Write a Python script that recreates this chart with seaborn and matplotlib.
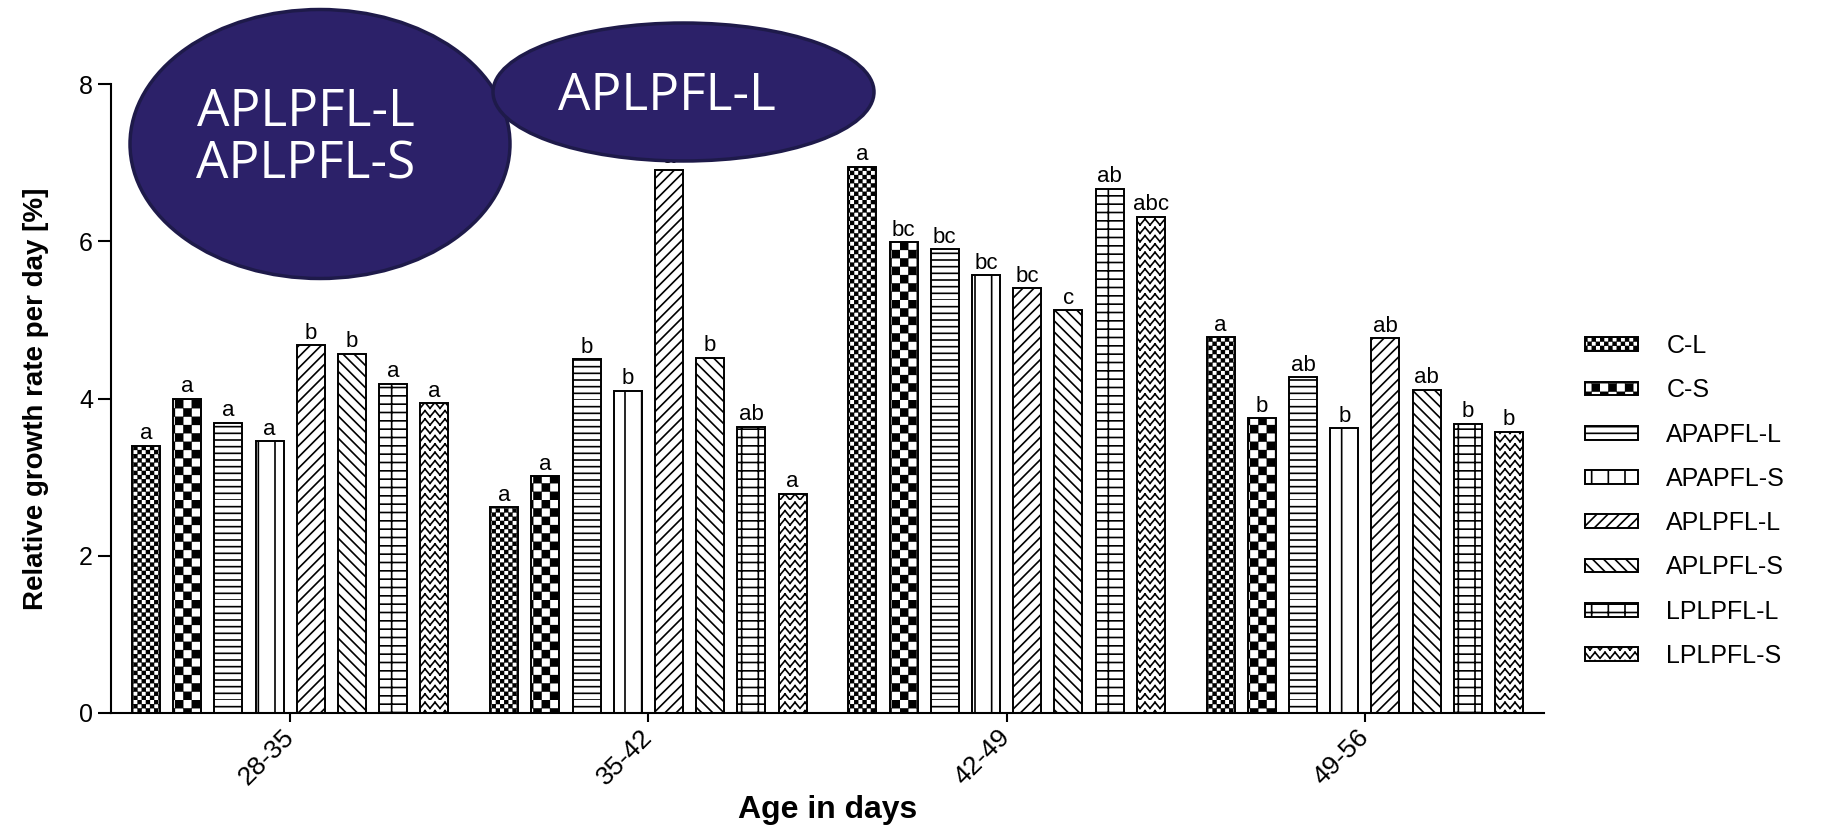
import warnings
import numpy as np
import pandas as pd
import matplotlib
matplotlib.use('Agg')
import matplotlib.pyplot as plt
import matplotlib.hatch as mhatch
from matplotlib.path import Path
from matplotlib.patches import Ellipse
import seaborn as sns

warnings.filterwarnings('ignore')

ages = ['28-35', '35-42', '42-49', '49-56']
treatments = ['C-L', 'C-S', 'APAPFL-L', 'APAPFL-S', 'APLPFL-L', 'APLPFL-S', 'LPLPFL-L', 'LPLPFL-S']

# relative growth rate per day [%], one value per age period
c_l = [3.40, 2.62, 6.95, 4.78]
c_s = [4.00, 3.01, 5.99, 3.75]
apapfl_l = [3.69, 4.50, 5.90, 4.27]
apapfl_s = [3.46, 4.10, 5.57, 3.62]
aplpfl_l = [4.68, 6.91, 5.40, 4.77]
aplpfl_s = [4.57, 4.52, 5.12, 4.11]
lplpfl_l = [4.19, 3.64, 6.67, 3.68]
lplpfl_s = [3.94, 2.79, 6.31, 3.58]

# significance letters
let_c_l = ['a', 'a', 'a', 'a']
let_c_s = ['a', 'a', 'bc', 'b']
let_apapfl_l = ['a', 'b', 'bc', 'ab']
let_apapfl_s = ['a', 'b', 'bc', 'b']
let_aplpfl_l = ['b', 'a', 'bc', 'ab']
let_aplpfl_s = ['b', 'b', 'c', 'ab']
let_lplpfl_l = ['a', 'ab', 'ab', 'b']
let_lplpfl_s = ['a', 'a', 'abc', 'b']

values = [c_l, c_s, apapfl_l, apapfl_s, aplpfl_l, aplpfl_s, lplpfl_l, lplpfl_s]
letters = [let_c_l, let_c_s, let_apapfl_l, let_apapfl_s,
           let_aplpfl_l, let_aplpfl_s, let_lplpfl_l, let_lplpfl_s]


# extra hatch patterns: checkerboards, zigzag, denser horizontal lines
class Checker(mhatch.HatchPatternBase):
    def __init__(self, hatch, density):
        self.n = 24 if 'k' in hatch else (12 if 'K' in hatch else 0)
        self.num_vertices = self.n * self.n // 2 * 5

    def set_vertices_and_codes(self, vertices, codes):
        s = 1.0 / self.n
        e = 0.007
        sq = np.array([[e, e], [s - e, e], [s - e, s - e], [e, s - e], [e, e]])
        cells = [(i, j) for i in range(self.n) for j in range(self.n) if (i + j) % 2 == 0]
        vertices[:] = np.concatenate([sq + [i * s, j * s] for i, j in cells])
        one = [Path.MOVETO, Path.LINETO, Path.LINETO, Path.LINETO, Path.CLOSEPOLY]
        codes[:] = np.tile(one, len(cells))


class Zigzag(mhatch.HatchPatternBase):
    def __init__(self, hatch, density):
        self.rows = 12 if 'z' in hatch else 0
        self.steps = 20
        self.num_vertices = self.rows * self.steps * 2

    def set_vertices_and_codes(self, vertices, codes):
        xs = np.linspace(0, 1, self.steps + 1)
        ys = np.where(np.arange(self.steps + 1) % 2, 0.06, 0.0)
        segs = []
        for r in range(self.rows):
            y0 = r / self.rows
            for k in range(self.steps):
                segs.append([xs[k], ys[k] + y0])
                segs.append([xs[k + 1], ys[k + 1] + y0])
        vertices[:] = np.array(segs)
        codes[:] = np.tile([Path.MOVETO, Path.LINETO], self.rows * self.steps)


class Horizontal(mhatch.HatchPatternBase):
    def __init__(self, hatch, density):
        self.n = 15 if 'h' in hatch else 0
        self.num_vertices = self.n * 2

    def set_vertices_and_codes(self, vertices, codes):
        ys = np.arange(self.n) / self.n
        vertices[0::2, 0] = 0.0
        vertices[1::2, 0] = 1.0
        vertices[0::2, 1] = ys
        vertices[1::2, 1] = ys
        codes[0::2] = Path.MOVETO
        codes[1::2] = Path.LINETO


mhatch._hatch_types.extend([Checker, Zigzag, Horizontal])

hatches = ['k', 'K', 'h', '|', '///', '\\\\\\', '--|', 'z']

rows = []
for t, vals in zip(treatments, values):
    for a, v in zip(ages, vals):
        rows.append({'age': a, 'treatment': t, 'rgr': v})
df = pd.DataFrame(rows)

sns.set_style('ticks')
plt.rcParams['font.family'] = ['Liberation Sans', 'DejaVu Sans']
plt.rcParams['hatch.linewidth'] = 1.2
plt.rcParams['hatch.color'] = 'black'
for key in ['text.color', 'axes.labelcolor', 'xtick.color', 'ytick.color', 'axes.edgecolor']:
    plt.rcParams[key] = 'black'

W, H = 1832, 831
fig = plt.figure(figsize=(W / 100, H / 100), dpi=100)
ax = fig.add_axes([111 / W, 1 - 713 / H, 1433 / W, 629 / H])

sns.barplot(data=df, x='age', y='rgr', hue='treatment', order=ages, hue_order=treatments,
            palette=['white'] * 8, saturation=1, edgecolor='black', linewidth=1.4,
            width=0.92, gap=0.32, errorbar=None, legend=False, ax=ax)

for cont, hatch, lets in zip(ax.containers, hatches, letters):
    labs = []
    for p in cont.patches:
        p.set_hatch(hatch)
        p.set_edgecolor('black')
        gi = int(round(p.get_x() + p.get_width() / 2))
        labs.append(lets[gi])
    ax.bar_label(cont, labels=labs, padding=1, fontsize=16, color='black')

sns.despine(ax=ax)
for side in ['left', 'bottom']:
    ax.spines[side].set_linewidth(1.5)
    ax.spines[side].set_color('black')
ax.set_xlim(-0.5, 3.5)
ax.set_ylim(0, 8)
ax.set_yticks([0, 2, 4, 6, 8])
ax.tick_params(axis='y', length=9.5, width=1.5, labelsize=18, pad=3.5, colors='black')
ax.tick_params(axis='x', length=6.5, width=1.5, labelsize=19, pad=8, colors='black')
for lbl in ax.get_xticklabels():
    lbl.set_rotation(45)
    lbl.set_ha('right')
    lbl.set_va('center')
    lbl.set_rotation_mode('anchor')

ax.set_ylabel('Relative growth rate per day [%]', fontsize=20, fontweight='bold')
ax.yaxis.set_label_coords(-0.043, 0.5)
ax.set_xlabel('Age in days', fontsize=23, fontweight='bold')
ax.xaxis.set_label_coords(0.5, -0.131)

ax.legend(handles=ax.containers, labels=treatments, loc='center left',
          bbox_to_anchor=(1585 / W, 1 - 501 / H), bbox_transform=fig.transFigure,
          frameon=False, fontsize=18, handlelength=2.1, handleheight=0.48,
          handletextpad=1.15, labelspacing=0.81, borderpad=0, borderaxespad=0)

# highlighted treatments
navy = '#2c2169'
edge = '#1e1a4a'
fig.add_artist(Ellipse((320 / W, 1 - 144 / H), 380 / W, 269 / H, transform=fig.transFigure,
                       facecolor=navy, edgecolor=edge, linewidth=2.5))
fig.add_artist(Ellipse((683.5 / W, 1 - 92 / H), 381 / W, 138 / H, transform=fig.transFigure,
                       facecolor=navy, edgecolor=edge, linewidth=2.5))
fig.text(306 / W, 1 - 139 / H, 'APLPFL-L\nAPLPFL-S', color='white', fontsize=37,
         family=['Open Sans', 'DejaVu Sans'], ha='center', va='center', linespacing=1.05)
fig.text(667 / W, 1 - 96 / H, 'APLPFL-L', color='white', fontsize=37,
         family=['Open Sans', 'DejaVu Sans'], ha='center', va='center')

fig.savefig('out.png', dpi=100)
